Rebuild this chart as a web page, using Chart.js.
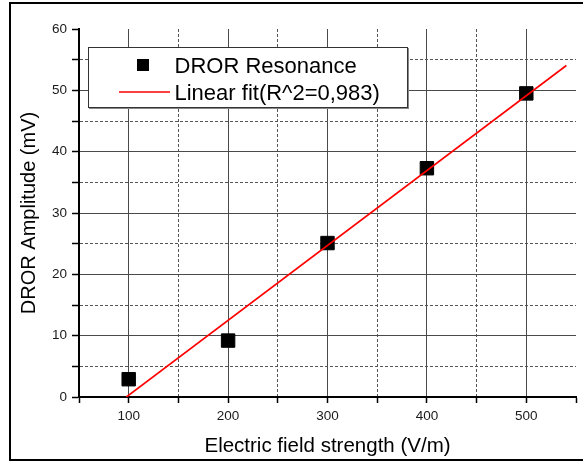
<!DOCTYPE html>
<html>
<head>
<meta charset="utf-8">
<script src="https://cdn.jsdelivr.net/npm/chart.js@4"></script>
<style>
  html, body { margin: 0; padding: 0; background: #fff; overflow: hidden; }
  #wrap { position: relative; width: 583px; height: 462px; overflow: hidden; }
  #frame {
    position: absolute; left: 9px; top: 2px; width: 620px; height: 459px;
    box-sizing: border-box; border: 2px solid #000;
  }
  #chart { position: absolute; left: 0; top: 0; }
</style>
</head>
<body>
<div id="wrap">
  <div id="frame"></div>
  <canvas id="chart" width="583" height="462"></canvas>
</div>
<script>
// Measured DROR amplitude versus applied electric field
const fieldStrength = [100, 200, 300, 400, 500];          // V/m
const drorAmplitude = [2.9, 9.2, 25.1, 37.3, 49.5];        // mV

// End points of the linear fit line
const fitX = [97.7, 540.3];
const fitY = [0, 54.05];

// Axis ranges and tick spacing
const xRange = [50, 550];
const yRange = [0, 60];
const xStep = 50, xMajor = 100;
const yStep = 5, yMajor = 10;

const seriesLabels = ['DROR Resonance', 'Linear fit(R^2=0,983)'];

const FONT = '"Liberation Sans", Arial, sans-serif';

const pointData = fieldStrength.map((x, i) => ({ x, y: drorAmplitude[i] }));
const fitData = fitX.map((x, i) => ({ x, y: fitY[i] }));

function gridColor(major, lo, hi) {
  return ctx => {
    if (!ctx.tick) return '#000';
    const v = ctx.tick.value;
    if (v === lo || v === hi) return 'rgba(0,0,0,0)';
    return (v % major === 0) ? '#4a4a4a' : '#555';
  };
}
function gridDash(major) {
  return ctx => {
    if (!ctx.tick) return [];
    return (ctx.tick.value % major === 0) ? [] : [3, 2];
  };
}

// Boxed legend drawn inside the plot area
const boxLegend = {
  id: 'boxLegend',
  afterDatasetsDraw(chart) {
    const c = chart.ctx;
    const ds = chart.data.datasets;
    c.save();
    c.fillStyle = '#fff';
    c.fillRect(88, 47, 320, 61);
    c.strokeStyle = '#333';
    c.lineWidth = 1;
    c.strokeRect(88.5, 47.5, 319, 60);
    c.strokeStyle = '#888';
    c.beginPath();
    c.moveTo(89, 108.5); c.lineTo(409, 108.5);
    c.moveTo(408.5, 48); c.lineTo(408.5, 109);
    c.stroke();

    // marker entry
    c.fillStyle = ds[0].backgroundColor;
    c.fillRect(137, 59, 12, 12);
    // line entry
    c.strokeStyle = ds[1].borderColor;
    c.lineWidth = 1.6;
    c.beginPath();
    c.moveTo(119, 92); c.lineTo(170, 92);
    c.stroke();

    c.fillStyle = '#000';
    c.font = '22px ' + FONT;
    c.textBaseline = 'alphabetic';
    c.textAlign = 'left';
    c.fillText(ds[0].label, 174.5, 73);
    c.fillText(ds[1].label, 174.5, 100);
    c.restore();
  }
};

new Chart(document.getElementById('chart'), {
  type: 'scatter',
  data: {
    datasets: [
      {
        label: seriesLabels[0],
        data: pointData,
        pointStyle: 'rect',
        pointRadius: 9.5,
        pointBorderWidth: 1,
        backgroundColor: '#000',
        borderColor: '#000',
        showLine: false,
        order: 2
      },
      {
        label: seriesLabels[1],
        data: fitData,
        showLine: true,
        pointRadius: 0,
        borderColor: '#ff0000',
        borderWidth: 1.6,
        fill: false,
        order: 1
      }
    ]
  },
  options: {
    responsive: false,
    animation: false,
    events: [],
    layout: { autoPadding: false, padding: { left: 0, top: 29, right: 7, bottom: 0 } },
    plugins: {
      legend: { display: false },
      tooltip: { enabled: false }
    },
    scales: {
      x: {
        type: 'linear',
        min: xRange[0], max: xRange[1],
        afterFit: s => { s.height = 65; s.paddingLeft = 0; s.paddingRight = 0; },
        ticks: {
          stepSize: xStep,
          autoSkip: false,
          maxRotation: 0,
          padding: 5,
          color: '#1a1a1a',
          font: { family: FONT, size: 13.5, lineHeight: 1.2 },
          callback: v => (v % xMajor === 0 ? String(v) : '')
        },
        grid: {
          color: gridColor(xMajor, xRange[0], xRange[1]),
          lineWidth: 1,
          tickLength: 6,
          tickColor: '#000',
          tickWidth: 1.5
        },
        border: { display: true, color: '#000', width: 2, dash: gridDash(xMajor) },
        title: {
          display: true,
          text: 'Electric field strength (V/m)',
          color: '#000',
          font: { family: FONT, size: 20.5, lineHeight: 1 },
          padding: { top: 0, bottom: 5.5 }
        }
      },
      y: {
        type: 'linear',
        min: yRange[0], max: yRange[1],
        afterFit: s => { s.width = 79; },
        ticks: {
          stepSize: yStep,
          autoSkip: false,
          padding: 5,
          color: '#1a1a1a',
          font: { family: FONT, size: 13.5, lineHeight: 1.2 },
          callback: v => (v % yMajor === 0 ? String(v) : '')
        },
        grid: {
          color: gridColor(yMajor, yRange[0], yRange[1]),
          lineWidth: 1,
          tickLength: 7,
          tickColor: '#000',
          tickWidth: 1.5
        },
        border: { display: true, color: '#000', width: 2, dash: gridDash(yMajor) },
        title: {
          display: true,
          text: 'DROR Amplitude (mV)',
          color: '#000',
          font: { family: FONT, size: 20, lineHeight: 1 },
          padding: { top: 19, bottom: 0 }
        }
      }
    }
  },
  plugins: [boxLegend]
});
</script>
</body>
</html>
